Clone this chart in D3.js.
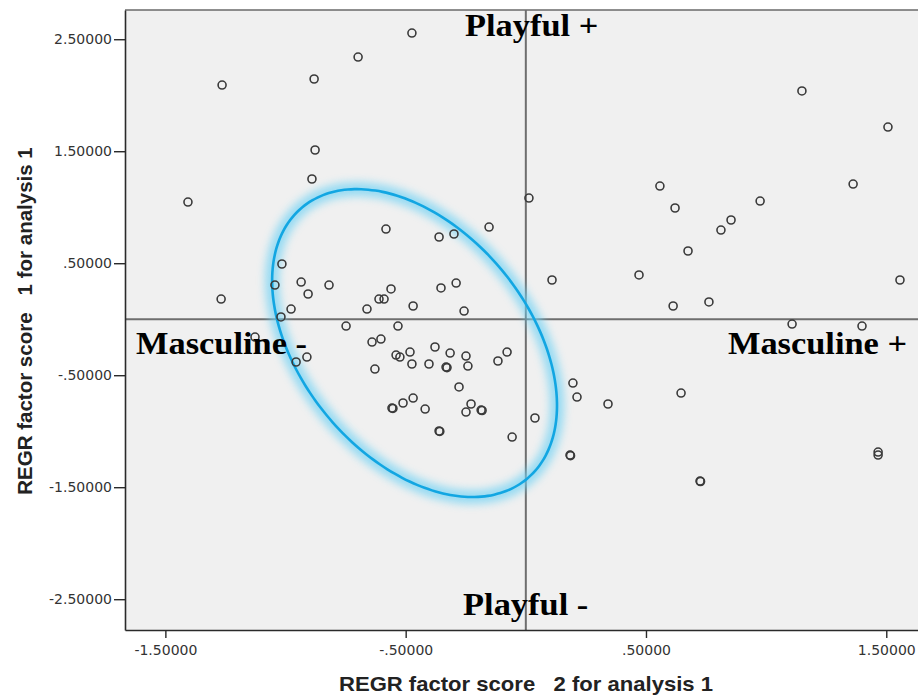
<!DOCTYPE html>
<html>
<head>
<meta charset="utf-8">
<script src="https://cdn.jsdelivr.net/npm/d3@7"></script>
<style>
  body { margin: 0; background: #fff; }
  .tick text { font-family: 'DejaVu Sans', sans-serif; font-size: 14px; fill: #333; }
  .axis-title { font-family: 'Liberation Sans', Arial, sans-serif; font-weight: bold; font-size: 20.5px; fill: #222; white-space: pre; }
  .quad-label { font-family: 'Liberation Serif', 'Times New Roman', serif; font-weight: bold; font-size: 32px; fill: #000; }
</style>
</head>
<body>
<div id="chart"></div>
<script>
// factor scores (x = factor 2, y = factor 1)
const factor2Scores = [
  -0.474, -0.698, -0.881, -1.264, -0.877, -0.890, -1.406, -0.582, -0.361, -0.299,
  -0.153, 0.013, 1.149, 1.507, 0.558, 0.621, 0.975, 1.362, 0.854, 0.812,
  0.675, 0.471, 0.109, 1.557, 0.613, 0.762, 1.108, 1.399, 0.646, 0.196,
  0.213, 0.342, 0.184, 0.186, 0.725, 0.727, 1.466, 1.466,
  -1.015, -1.268, -1.044, -0.935, -0.906, -0.819, -0.977, -1.019, -0.561, -0.611,
  -0.590, -0.661, -0.469, -0.353, -0.290, -0.257, -0.748, -0.532, -0.640, -0.603,
  -1.127, -0.911, -0.956, -0.540, -0.524, -0.482, -0.474, -0.378, -0.403, -0.315,
  -0.332, -0.328, -0.249, -0.241, -0.078, -0.116, -0.628, -0.278, -0.557, -0.553,
  -0.511, -0.469, -0.419, -0.228, -0.249, -0.186, -0.182, -0.361, -0.358, -0.057,
  0.038
];
const factor1Scores = [
  2.555, 2.341, 2.145, 2.091, 1.511, 1.252, 1.046, 0.805, 0.734, 0.761,
  0.823, 1.082, 2.038, 1.716, 1.189, 0.993, 1.055, 1.207, 0.886, 0.796,
  0.609, 0.395, 0.350, 0.350, 0.118, 0.154, -0.043, -0.061, -0.659, -0.570,
  -0.695, -0.757, -1.213, -1.218, -1.445, -1.449, -1.186, -1.213,
  0.493, 0.180, 0.305, 0.332, 0.225, 0.305, 0.091, 0.020, 0.270, 0.180,
  0.180, 0.091, 0.118, 0.279, 0.323, 0.073, -0.061, -0.061, -0.204, -0.177,
  -0.159, -0.338, -0.382, -0.320, -0.338, -0.293, -0.400, -0.248, -0.400, -0.302,
  -0.427, -0.432, -0.329, -0.418, -0.293, -0.373, -0.445, -0.605, -0.793, -0.797,
  -0.748, -0.704, -0.802, -0.757, -0.829, -0.811, -0.815, -0.998, -1.002, -1.052,
  -0.882
];

const xTickValues = [-1.5, -0.5, 0.5, 1.5];
const yTickValues = [2.5, 1.5, 0.5, -0.5, -1.5, -2.5];

// quadrant names and where they sit (data units)
const quadrantLabels = ['Playful +', 'Masculine -', 'Masculine +', 'Playful -'];
const quadrantLabelX = [-0.253, -1.622, 0.841, -0.261];
const quadrantLabelY = [2.529, -0.311, -0.311, -2.641];

// highlighted cluster: centre + two half axes, in data units
const ellipseCenter = [-0.463, -0.213];
const ellipseAxisA = [0.467, -1.213];
const ellipseAxisB = [-0.365, -0.647];

const xTitle = 'REGR factor score   2 for analysis 1';
const yTitle = 'REGR factor score   1 for analysis 1';

const width = 918;
const height = 698;
const margin = { top: 10, right: 0, bottom: 68, left: 125 };

const svg = d3.select('#chart').append('svg').attr('width', width).attr('height', height);

svg.append('defs')
  .append('filter')
  .attr('id', 'glow')
  .attr('x', '-20%').attr('y', '-20%').attr('width', '140%').attr('height', '140%')
  .append('feGaussianBlur')
  .attr('stdDeviation', 4.5);

const x = d3.scaleLinear().domain([-1.668, 1.632]).range([margin.left, width - margin.right]);
const y = d3.scaleLinear().domain([-2.775, 2.761]).range([height - margin.bottom, margin.top]);

// plot background
svg.append('rect')
  .attr('x', x.range()[0])
  .attr('y', y.range()[1])
  .attr('width', x.range()[1] - x.range()[0])
  .attr('height', y.range()[0] - y.range()[1])
  .attr('fill', '#f0f0f0');

// top frame line
svg.append('line')
  .attr('x1', x.range()[0]).attr('x2', x.range()[1])
  .attr('y1', y.range()[1]).attr('y2', y.range()[1])
  .attr('stroke', '#6a6a6a').attr('stroke-width', 1.5);

// reference lines at 0
svg.append('line')
  .attr('x1', x(0)).attr('x2', x(0))
  .attr('y1', y.range()[0]).attr('y2', y.range()[1])
  .attr('stroke', '#6e6e6e').attr('stroke-width', 2);
svg.append('line')
  .attr('x1', x.range()[0]).attr('x2', x.range()[1])
  .attr('y1', y(0)).attr('y2', y(0))
  .attr('stroke', '#6e6e6e').attr('stroke-width', 2);

// ellipse around the cluster
const ellipsePoints = d3.range(0, 360, 3).map((deg) => {
  const t = (deg * Math.PI) / 180;
  return [
    ellipseCenter[0] + Math.cos(t) * ellipseAxisA[0] + Math.sin(t) * ellipseAxisB[0],
    ellipseCenter[1] + Math.cos(t) * ellipseAxisA[1] + Math.sin(t) * ellipseAxisB[1],
  ];
});
const ellipseLine = d3.line()
  .x((d) => x(d[0]))
  .y((d) => y(d[1]))
  .curve(d3.curveCardinalClosed);

svg.append('path')
  .attr('d', ellipseLine(ellipsePoints))
  .attr('fill', 'none')
  .attr('stroke', '#6fd2f4')
  .attr('stroke-width', 14)
  .attr('opacity', 0.7)
  .attr('filter', 'url(#glow)');
svg.append('path')
  .attr('d', ellipseLine(ellipsePoints))
  .attr('fill', 'none')
  .attr('stroke', '#12a6e2')
  .attr('stroke-width', 2.6);

// points
svg.append('g')
  .selectAll('circle')
  .data(factor2Scores)
  .join('circle')
  .attr('cx', (d) => x(d))
  .attr('cy', (d, i) => y(factor1Scores[i]))
  .attr('r', 4)
  .attr('fill', 'none')
  .attr('stroke', '#3a3a3a')
  .attr('stroke-width', 1.6);

// axes - SPSS style labels: no leading zero, plain hyphen minus
const fmt = (v) => d3.format('.5f')(v).replace('\u2212', '-').replace(/^(-?)0\./, '$1.');

const xAxis = svg.append('g')
  .attr('transform', `translate(0,${y.range()[0]})`)
  .call(d3.axisBottom(x).tickValues(xTickValues).tickFormat(fmt).tickSize(8).tickPadding(7).tickSizeOuter(0));
const yAxis = svg.append('g')
  .attr('transform', `translate(${x.range()[0]},0)`)
  .call(d3.axisLeft(y).tickValues(yTickValues).tickFormat(fmt).tickSize(11).tickPadding(2).tickSizeOuter(0));

[xAxis, yAxis].forEach((ax) => {
  ax.select('.domain').attr('stroke', '#2a2a2a').attr('stroke-width', 1.6);
  ax.selectAll('.tick line').attr('stroke', '#2a2a2a').attr('stroke-width', 1.4);
});

// axis titles
svg.append('text')
  .attr('class', 'axis-title')
  .attr('x', 526)
  .attr('y', 691)
  .attr('text-anchor', 'middle')
  .attr('textLength', 374)
  .attr('lengthAdjust', 'spacingAndGlyphs')
  .text(xTitle);
svg.append('text')
  .attr('class', 'axis-title')
  .attr('transform', 'translate(32,321) rotate(-90)')
  .attr('text-anchor', 'middle')
  .text(yTitle);

// quadrant labels (slightly stretched like the source picture)
svg.append('g')
  .selectAll('text')
  .data(quadrantLabels)
  .join('text')
  .attr('class', 'quad-label')
  .attr('transform', (d, i) => `translate(${x(quadrantLabelX[i])},${y(quadrantLabelY[i])}) scale(1.075,1)`)
  .text((d) => d);
</script>
</body>
</html>
